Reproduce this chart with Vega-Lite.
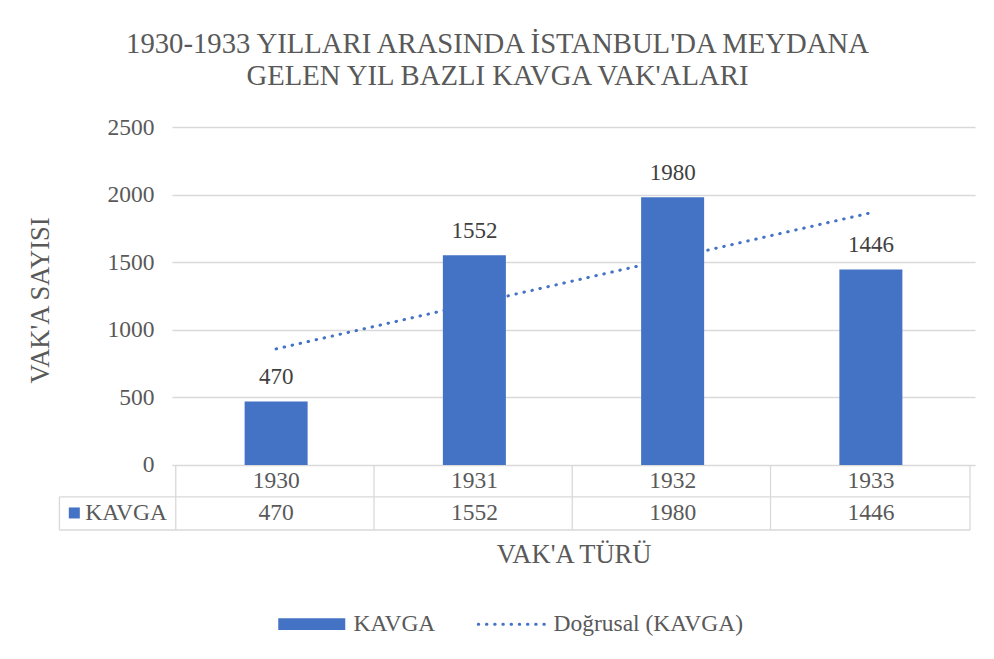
{
  "$schema": "https://vega.github.io/schema/vega-lite/v6.json",
  "width": 803,
  "height": 403,
  "autosize": {"type": "none"},
  "padding": {"left": 172, "top": 127, "right": 19, "bottom": 129},
  "background": "white",
  "config": {"view": {"stroke": null}},
  "title": {
    "text": ["1930-1933 YILLARI ARASINDA İSTANBUL'DA MEYDANA", "GELEN YIL BAZLI KAVGA VAK'ALARI"],
    "font": "Liberation Serif",
    "fontSize": 28.7,
    "fontWeight": "normal",
    "color": "#595959",
    "anchor": "middle",
    "dx": -76,
    "offset": 24,
    "lineHeight": 32
  },
  "datasets": {
    "kavga": [
      {"year": 1930, "count": 470, "series": "KAVGA"},
      {"year": 1931, "count": 1552, "series": "KAVGA"},
      {"year": 1932, "count": 1980, "series": "KAVGA"},
      {"year": 1933, "count": 1446, "series": "KAVGA"}
    ]
  },
  "data": {"name": "kavga"},
  "layer": [
    {
      "transform": [{"regression": "count", "on": "year", "extent": [1930, 1933]}],
      "mark": {"type": "line", "strokeWidth": 3, "strokeDash": [0.5, 7.7], "strokeCap": "round"},
      "encoding": {
        "x": {"field": "year", "type": "quantitative", "scale": {"domain": [1929.5, 1933.5], "nice": false, "zero": false},
          "axis": {"labels": false, "ticks": false, "domain": false, "grid": false, "title": "VAK'A TÜRÜ", "titleFontSize": 26.5, "titleFontWeight": "normal", "titleColor": "#595959", "titleFont": "Liberation Serif", "titlePadding": 11}},
        "y": {"field": "count", "type": "quantitative", "scale": {"domain": [-481, 2500], "nice": false, "zero": false},
          "axis": {"values": [0, 500, 1000, 1500, 2000, 2500], "format": "d", "grid": true, "gridColor": "#d9d9d9", "gridWidth": 1.3, "domain": false, "ticks": false, "tickSize": 0, "labelPadding": 18, "labelFontSize": 23.5, "labelColor": "#595959", "labelFont": "Liberation Serif", "title": "VAK'A SAYISI", "titleFontSize": 26.5, "titleFontWeight": "normal", "titleColor": "#595959", "titleFont": "Liberation Serif", "titleX": -132, "titleY": 173, "titleAngle": -90, "titleAlign": "center", "titleBaseline": "middle"}},
        "color": {"datum": "Doğrusal (KAVGA)", "type": "nominal", "scale": {"domain": ["KAVGA", "Doğrusal (KAVGA)"], "range": ["#4472C4", "#4472C4"]},
          "legend": {
            "orient": "none", "legendX": 128, "legendY": 485, "direction": "horizontal", "title": null,
            "symbolSize": 4489, "labelFontSize": 23.5, "labelFont": "Liberation Serif", "labelColor": "#595959",
            "labelOffset": 30, "columnPadding": 36, "padding": 0, "labelLimit": 400,
            "encode": {"symbols": {"update": {
              "shape": {"signal": "datum.value === 'KAVGA' ? 'M-1,-0.172H1V0.172H-1Z' : 'stroke'"},
              "fill": {"signal": "datum.value === 'KAVGA' ? '#4472C4' : 'transparent'"},
              "stroke": {"value": "#4472C4"},
              "strokeWidth": {"signal": "datum.value === 'KAVGA' ? 0 : 3"},
              "strokeDash": {"signal": "datum.value === 'KAVGA' ? [] : [0.5, 7.7]"},
              "strokeCap": {"value": "round"},
              "opacity": {"value": 1}
            }}}
          }}
      }
    },
    {
      "mark": {"type": "bar", "width": 63},
      "encoding": {
        "x": {"field": "year", "type": "quantitative", "scale": {"domain": [1929.5, 1933.5], "nice": false, "zero": false},
          "axis": {"labels": false, "ticks": false, "domain": false, "grid": false, "title": "VAK'A TÜRÜ", "titleFontSize": 26.5, "titleFontWeight": "normal", "titleColor": "#595959", "titleFont": "Liberation Serif", "titlePadding": 11}},
        "y": {"field": "count", "type": "quantitative", "scale": {"domain": [-481, 2500], "nice": false, "zero": false},
          "axis": {"values": [0, 500, 1000, 1500, 2000, 2500], "format": "d", "grid": true, "gridColor": "#d9d9d9", "gridWidth": 1.3, "domain": false, "ticks": false, "tickSize": 0, "labelPadding": 18, "labelFontSize": 23.5, "labelColor": "#595959", "labelFont": "Liberation Serif", "title": "VAK'A SAYISI", "titleFontSize": 26.5, "titleFontWeight": "normal", "titleColor": "#595959", "titleFont": "Liberation Serif", "titleX": -132, "titleY": 173, "titleAngle": -90, "titleAlign": "center", "titleBaseline": "middle"}},
        "color": {"field": "series", "type": "nominal", "scale": {"domain": ["KAVGA", "Doğrusal (KAVGA)"], "range": ["#4472C4", "#4472C4"]},
          "legend": {
            "orient": "none", "legendX": 128, "legendY": 485, "direction": "horizontal", "title": null,
            "symbolSize": 4489, "labelFontSize": 23.5, "labelFont": "Liberation Serif", "labelColor": "#595959",
            "labelOffset": 30, "columnPadding": 36, "padding": 0, "labelLimit": 400,
            "encode": {"symbols": {"update": {
              "shape": {"signal": "datum.value === 'KAVGA' ? 'M-1,-0.172H1V0.172H-1Z' : 'stroke'"},
              "fill": {"signal": "datum.value === 'KAVGA' ? '#4472C4' : 'transparent'"},
              "stroke": {"value": "#4472C4"},
              "strokeWidth": {"signal": "datum.value === 'KAVGA' ? 0 : 3"},
              "strokeDash": {"signal": "datum.value === 'KAVGA' ? [] : [0.5, 7.7]"},
              "strokeCap": {"value": "round"},
              "opacity": {"value": 1}
            }}}
          }}
      }
    },
    {
      "mark": {"type": "text", "baseline": "alphabetic", "dy": -17, "fontSize": 23, "color": "#404040", "font": "Liberation Serif"},
      "encoding": {
        "x": {"field": "year", "type": "quantitative", "scale": {"domain": [1929.5, 1933.5], "nice": false, "zero": false},
          "axis": {"labels": false, "ticks": false, "domain": false, "grid": false, "title": "VAK'A TÜRÜ", "titleFontSize": 26.5, "titleFontWeight": "normal", "titleColor": "#595959", "titleFont": "Liberation Serif", "titlePadding": 11}},
        "y": {"field": "count", "type": "quantitative", "scale": {"domain": [-481, 2500], "nice": false, "zero": false},
          "axis": {"values": [0, 500, 1000, 1500, 2000, 2500], "format": "d", "grid": true, "gridColor": "#d9d9d9", "gridWidth": 1.3, "domain": false, "ticks": false, "tickSize": 0, "labelPadding": 18, "labelFontSize": 23.5, "labelColor": "#595959", "labelFont": "Liberation Serif", "title": "VAK'A SAYISI", "titleFontSize": 26.5, "titleFontWeight": "normal", "titleColor": "#595959", "titleFont": "Liberation Serif", "titleX": -132, "titleY": 173, "titleAngle": -90, "titleAlign": "center", "titleBaseline": "middle"}},
        "text": {"field": "count", "type": "quantitative"}
      }
    },
    {
      "mark": {"type": "text", "baseline": "middle", "fontSize": 23.5, "color": "#595959", "font": "Liberation Serif"},
      "encoding": {
        "x": {"field": "year", "type": "quantitative", "scale": {"domain": [1929.5, 1933.5], "nice": false, "zero": false},
          "axis": {"labels": false, "ticks": false, "domain": false, "grid": false, "title": "VAK'A TÜRÜ", "titleFontSize": 26.5, "titleFontWeight": "normal", "titleColor": "#595959", "titleFont": "Liberation Serif", "titlePadding": 11}},
        "y": {"datum": -118, "type": "quantitative", "scale": {"domain": [-481, 2500], "nice": false, "zero": false},
          "axis": {"values": [0, 500, 1000, 1500, 2000, 2500], "format": "d", "grid": true, "gridColor": "#d9d9d9", "gridWidth": 1.3, "domain": false, "ticks": false, "tickSize": 0, "labelPadding": 18, "labelFontSize": 23.5, "labelColor": "#595959", "labelFont": "Liberation Serif", "title": "VAK'A SAYISI", "titleFontSize": 26.5, "titleFontWeight": "normal", "titleColor": "#595959", "titleFont": "Liberation Serif", "titleX": -132, "titleY": 173, "titleAngle": -90, "titleAlign": "center", "titleBaseline": "middle"}},
        "text": {"field": "year", "type": "nominal"}
      }
    },
    {
      "mark": {"type": "text", "baseline": "middle", "fontSize": 23.5, "color": "#595959", "font": "Liberation Serif"},
      "encoding": {
        "x": {"field": "year", "type": "quantitative", "scale": {"domain": [1929.5, 1933.5], "nice": false, "zero": false},
          "axis": {"labels": false, "ticks": false, "domain": false, "grid": false, "title": "VAK'A TÜRÜ", "titleFontSize": 26.5, "titleFontWeight": "normal", "titleColor": "#595959", "titleFont": "Liberation Serif", "titlePadding": 11}},
        "y": {"datum": -355, "type": "quantitative", "scale": {"domain": [-481, 2500], "nice": false, "zero": false},
          "axis": {"values": [0, 500, 1000, 1500, 2000, 2500], "format": "d", "grid": true, "gridColor": "#d9d9d9", "gridWidth": 1.3, "domain": false, "ticks": false, "tickSize": 0, "labelPadding": 18, "labelFontSize": 23.5, "labelColor": "#595959", "labelFont": "Liberation Serif", "title": "VAK'A SAYISI", "titleFontSize": 26.5, "titleFontWeight": "normal", "titleColor": "#595959", "titleFont": "Liberation Serif", "titleX": -132, "titleY": 173, "titleAngle": -90, "titleAlign": "center", "titleBaseline": "middle"}},
        "text": {"field": "count", "type": "quantitative"}
      }
    },
    {
      "mark": {"type": "rule", "color": "#d9d9d9", "strokeWidth": 1.3},
      "encoding": {
        "x": {"field": "year", "type": "quantitative", "scale": {"domain": [1929.5, 1933.5], "nice": false, "zero": false},
          "axis": {"labels": false, "ticks": false, "domain": false, "grid": false, "title": "VAK'A TÜRÜ", "titleFontSize": 26.5, "titleFontWeight": "normal", "titleColor": "#595959", "titleFont": "Liberation Serif", "titlePadding": 11}},
        "xOffset": {"value": -100.375},
        "y": {"datum": 0, "type": "quantitative", "scale": {"domain": [-481, 2500], "nice": false, "zero": false},
          "axis": {"values": [0, 500, 1000, 1500, 2000, 2500], "format": "d", "grid": true, "gridColor": "#d9d9d9", "gridWidth": 1.3, "domain": false, "ticks": false, "tickSize": 0, "labelPadding": 18, "labelFontSize": 23.5, "labelColor": "#595959", "labelFont": "Liberation Serif", "title": "VAK'A SAYISI", "titleFontSize": 26.5, "titleFontWeight": "normal", "titleColor": "#595959", "titleFont": "Liberation Serif", "titleX": -132, "titleY": 173, "titleAngle": -90, "titleAlign": "center", "titleBaseline": "middle"}},
        "y2": {"datum": -481}
      }
    },
    {
      "data": {"values": [{}]},
      "mark": {"type": "rule", "color": "#d9d9d9", "strokeWidth": 1.3},
      "encoding": {
        "x": {"datum": 1933.5, "type": "quantitative", "scale": {"domain": [1929.5, 1933.5], "nice": false, "zero": false},
          "axis": {"labels": false, "ticks": false, "domain": false, "grid": false, "title": "VAK'A TÜRÜ", "titleFontSize": 26.5, "titleFontWeight": "normal", "titleColor": "#595959", "titleFont": "Liberation Serif", "titlePadding": 11}},
        "y": {"datum": 0, "type": "quantitative", "scale": {"domain": [-481, 2500], "nice": false, "zero": false},
          "axis": {"values": [0, 500, 1000, 1500, 2000, 2500], "format": "d", "grid": true, "gridColor": "#d9d9d9", "gridWidth": 1.3, "domain": false, "ticks": false, "tickSize": 0, "labelPadding": 18, "labelFontSize": 23.5, "labelColor": "#595959", "labelFont": "Liberation Serif", "title": "VAK'A SAYISI", "titleFontSize": 26.5, "titleFontWeight": "normal", "titleColor": "#595959", "titleFont": "Liberation Serif", "titleX": -132, "titleY": 173, "titleAngle": -90, "titleAlign": "center", "titleBaseline": "middle"}},
        "y2": {"datum": -481}
      }
    },
    {
      "data": {"values": [{}]},
      "mark": {"type": "rule", "color": "#d9d9d9", "strokeWidth": 1.3},
      "encoding": {
        "x": {"datum": 1928.907, "type": "quantitative", "scale": {"domain": [1929.5, 1933.5], "nice": false, "zero": false},
          "axis": {"labels": false, "ticks": false, "domain": false, "grid": false, "title": "VAK'A TÜRÜ", "titleFontSize": 26.5, "titleFontWeight": "normal", "titleColor": "#595959", "titleFont": "Liberation Serif", "titlePadding": 11}},
        "y": {"datum": -236.7, "type": "quantitative", "scale": {"domain": [-481, 2500], "nice": false, "zero": false},
          "axis": {"values": [0, 500, 1000, 1500, 2000, 2500], "format": "d", "grid": true, "gridColor": "#d9d9d9", "gridWidth": 1.3, "domain": false, "ticks": false, "tickSize": 0, "labelPadding": 18, "labelFontSize": 23.5, "labelColor": "#595959", "labelFont": "Liberation Serif", "title": "VAK'A SAYISI", "titleFontSize": 26.5, "titleFontWeight": "normal", "titleColor": "#595959", "titleFont": "Liberation Serif", "titleX": -132, "titleY": 173, "titleAngle": -90, "titleAlign": "center", "titleBaseline": "middle"}},
        "y2": {"datum": -481}
      }
    },
    {
      "data": {"values": [{}]},
      "mark": {"type": "rule", "color": "#d9d9d9", "strokeWidth": 1.3},
      "encoding": {
        "x": {"datum": 1928.907, "type": "quantitative", "scale": {"domain": [1929.5, 1933.5], "nice": false, "zero": false},
          "axis": {"labels": false, "ticks": false, "domain": false, "grid": false, "title": "VAK'A TÜRÜ", "titleFontSize": 26.5, "titleFontWeight": "normal", "titleColor": "#595959", "titleFont": "Liberation Serif", "titlePadding": 11}},
        "x2": {"datum": 1933.5},
        "y": {"datum": -236.7, "type": "quantitative", "scale": {"domain": [-481, 2500], "nice": false, "zero": false},
          "axis": {"values": [0, 500, 1000, 1500, 2000, 2500], "format": "d", "grid": true, "gridColor": "#d9d9d9", "gridWidth": 1.3, "domain": false, "ticks": false, "tickSize": 0, "labelPadding": 18, "labelFontSize": 23.5, "labelColor": "#595959", "labelFont": "Liberation Serif", "title": "VAK'A SAYISI", "titleFontSize": 26.5, "titleFontWeight": "normal", "titleColor": "#595959", "titleFont": "Liberation Serif", "titleX": -132, "titleY": 173, "titleAngle": -90, "titleAlign": "center", "titleBaseline": "middle"}}
      }
    },
    {
      "data": {"values": [{}]},
      "mark": {"type": "rule", "color": "#d9d9d9", "strokeWidth": 1.3},
      "encoding": {
        "x": {"datum": 1928.907, "type": "quantitative", "scale": {"domain": [1929.5, 1933.5], "nice": false, "zero": false},
          "axis": {"labels": false, "ticks": false, "domain": false, "grid": false, "title": "VAK'A TÜRÜ", "titleFontSize": 26.5, "titleFontWeight": "normal", "titleColor": "#595959", "titleFont": "Liberation Serif", "titlePadding": 11}},
        "x2": {"datum": 1933.5},
        "y": {"datum": -481, "type": "quantitative", "scale": {"domain": [-481, 2500], "nice": false, "zero": false},
          "axis": {"values": [0, 500, 1000, 1500, 2000, 2500], "format": "d", "grid": true, "gridColor": "#d9d9d9", "gridWidth": 1.3, "domain": false, "ticks": false, "tickSize": 0, "labelPadding": 18, "labelFontSize": 23.5, "labelColor": "#595959", "labelFont": "Liberation Serif", "title": "VAK'A SAYISI", "titleFontSize": 26.5, "titleFontWeight": "normal", "titleColor": "#595959", "titleFont": "Liberation Serif", "titleX": -132, "titleY": 173, "titleAngle": -90, "titleAlign": "center", "titleBaseline": "middle"}}
      }
    },
    {
      "data": {"values": [{"series": "KAVGA"}]},
      "mark": {"type": "text", "align": "left", "baseline": "middle", "fontSize": 23.5, "color": "#595959", "font": "Liberation Serif"},
      "encoding": {
        "x": {"datum": 1929.037, "type": "quantitative", "scale": {"domain": [1929.5, 1933.5], "nice": false, "zero": false},
          "axis": {"labels": false, "ticks": false, "domain": false, "grid": false, "title": "VAK'A TÜRÜ", "titleFontSize": 26.5, "titleFontWeight": "normal", "titleColor": "#595959", "titleFont": "Liberation Serif", "titlePadding": 11}},
        "y": {"datum": -355, "type": "quantitative", "scale": {"domain": [-481, 2500], "nice": false, "zero": false},
          "axis": {"values": [0, 500, 1000, 1500, 2000, 2500], "format": "d", "grid": true, "gridColor": "#d9d9d9", "gridWidth": 1.3, "domain": false, "ticks": false, "tickSize": 0, "labelPadding": 18, "labelFontSize": 23.5, "labelColor": "#595959", "labelFont": "Liberation Serif", "title": "VAK'A SAYISI", "titleFontSize": 26.5, "titleFontWeight": "normal", "titleColor": "#595959", "titleFont": "Liberation Serif", "titleX": -132, "titleY": 173, "titleAngle": -90, "titleAlign": "center", "titleBaseline": "middle"}},
        "text": {"field": "series", "type": "nominal"}
      }
    },
    {
      "data": {"values": [{"series": "KAVGA"}]},
      "mark": {"type": "point", "shape": "square", "filled": true, "size": 121, "color": "#4472C4", "opacity": 1},
      "encoding": {
        "x": {"datum": 1928.982, "type": "quantitative", "scale": {"domain": [1929.5, 1933.5], "nice": false, "zero": false},
          "axis": {"labels": false, "ticks": false, "domain": false, "grid": false, "title": "VAK'A TÜRÜ", "titleFontSize": 26.5, "titleFontWeight": "normal", "titleColor": "#595959", "titleFont": "Liberation Serif", "titlePadding": 11}},
        "y": {"datum": -355, "type": "quantitative", "scale": {"domain": [-481, 2500], "nice": false, "zero": false},
          "axis": {"values": [0, 500, 1000, 1500, 2000, 2500], "format": "d", "grid": true, "gridColor": "#d9d9d9", "gridWidth": 1.3, "domain": false, "ticks": false, "tickSize": 0, "labelPadding": 18, "labelFontSize": 23.5, "labelColor": "#595959", "labelFont": "Liberation Serif", "title": "VAK'A SAYISI", "titleFontSize": 26.5, "titleFontWeight": "normal", "titleColor": "#595959", "titleFont": "Liberation Serif", "titleX": -132, "titleY": 173, "titleAngle": -90, "titleAlign": "center", "titleBaseline": "middle"}}
      }
    }
  ]
}
